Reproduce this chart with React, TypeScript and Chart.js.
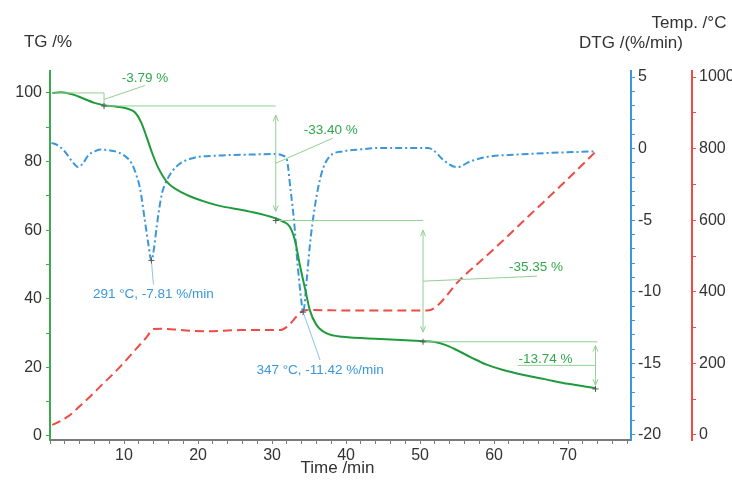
import React, { useEffect, useRef } from 'react';
import { Chart, registerables } from 'chart.js';

Chart.register(...registerables);

// ---- data ----
const tgTime = [0.3, 1.5, 3.0, 4.5, 6.0, 7.3, 9.0, 10.5, 11.5, 12.3, 13.0, 13.8, 14.6, 15.8, 18.0, 20.5, 22.5, 27.0, 30.4, 31.5, 32.4, 33.1, 33.8, 34.5, 35.1, 36.0, 37.4, 39.6, 44.6, 50.0, 52.0, 53.5, 55.0, 57.0, 59.0, 61.0, 64.0, 67.0, 70.0, 73.7];
const tgValue = [100.0, 100.2, 99.6, 98.4, 97.1, 96.4, 96.0, 95.4, 94.3, 91.5, 87.5, 82.5, 78.3, 74.1, 70.8, 68.6, 67.3, 65.4, 63.5, 62.5, 61.0, 57.0, 49.4, 42.6, 36.7, 32.4, 29.9, 28.9, 28.3, 27.7, 27.4, 26.5, 25.0, 22.8, 20.8, 19.4, 17.8, 16.5, 15.2, 13.9];

const dtgTime = [0.2, 1.0, 2.0, 3.0, 3.8, 4.5, 5.2, 6.0, 6.8, 8.0, 9.2, 10.2, 11.0, 11.7, 12.2, 12.8, 13.3, 13.7, 14.1, 14.4, 15.1, 15.8, 17.1, 19.4, 22.5, 27.0, 30.4, 31.5, 32.0, 32.5, 33.0, 33.35, 34.0, 34.2, 34.7, 35.1, 35.8, 36.7, 37.8, 39.6, 42.0, 44.6, 47.3, 51.1, 52.0, 53.1, 55.0, 56.8, 59.0, 63.1, 67.6, 73.7];
const dtgValue = [0.4, 0.25, -0.2, -0.9, -1.28, -1.0, -0.45, -0.2, -0.07, -0.12, -0.26, -0.55, -1.0, -1.9, -2.86, -4.96, -6.7, -7.81, -6.8, -5.5, -3.2, -2.2, -1.24, -0.65, -0.49, -0.42, -0.37, -0.5, -0.77, -2.86, -5.2, -7.5, -10.8, -11.42, -9.1, -6.8, -4.0, -1.7, -0.54, -0.19, -0.05, 0.05, 0.05, 0.05, -0.2, -0.77, -1.3, -0.89, -0.58, -0.42, -0.3, -0.19];

const tempTime = [0.3, 1.5, 2.7, 4.0, 5.4, 7.0, 8.6, 10.2, 11.7, 13.0, 14.0, 15.0, 16.7, 19.0, 21.2, 25.7, 28.0, 31.1, 32.0, 32.9, 33.6, 34.2, 35.1, 40.0, 45.0, 51.0, 55.6, 60.0, 65.0, 70.0, 73.7];
const tempValue = [28, 40, 56, 80, 107, 140, 172, 207, 242, 272, 296, 297, 295, 291, 290, 293, 293, 293, 302, 321, 338, 347, 349, 348, 348, 348, 438, 520, 618, 716, 791];

// mass-loss steps
const stepStart = 0.3;
const stepTimes = [7.3, 30.5, 50.4, 73.7];
const stepLevels = [100, 96.21, 62.81, 27.46, 13.72];
const stepLabels = ['-3.79 %', '-33.40 %', '-35.35 %', '-13.74 %'];

// DTG peaks
const peakTimes = [13.7, 34.2];
const peakValues = [-7.81, -11.42];
const peakTemps = [291, 347];

// ticks
const xTicks: number[] = [];
for (let v = 0; v <= 78; v += 2) xTicks.push(v);
const tgTicks: number[] = [];
for (let v = 0; v <= 100; v += 10) tgTicks.push(v);
const dtgTicks: number[] = [];
for (let v = -20; v <= 5; v += 1) dtgTicks.push(v);
const tempTicks: number[] = [];
for (let v = 0; v <= 1000; v += 100) tempTicks.push(v);

// ---- styles / layout ----
const FONT = '"Liberation Sans", Arial, Helvetica, sans-serif';
const TG_COLOR = '#1f9a3c';
const TG_AXIS = '#3aaa4c';
const DTG_COLOR = '#3a97dc';
const T_COLOR = '#ee4b43';
const X_AXIS = '#7a7a7a';
const TEXT = '#333333';
const ANN_GREEN = '#93cf93';
const LABEL_GREEN = '#2fa84a';
const ANN_BLUE = '#8cc4ea';

// leader offsets (lx, ly) from the step midpoint, text offset (tx, ty) from leader end
const stepLabelLayout = [
  { lx: 41, ly: -14, tx: 0, ty: -7 },
  { lx: 57, ly: -25, tx: -2, ty: -8 },
  { lx: 114, ly: -5, tx: -1, ty: -9 },
  { lx: -78, ly: 0, tx: 28, ty: -6 },
];
const peakLabelLayout = [
  { lx: 2, ly: 24, ty: 10 },
  { lx: 17, ly: 48, ty: 10 },
];

const overlay = {
  id: 'overlay',
  afterDraw(chart: any) {
    const { ctx, scales, chartArea } = chart;
    const sx = scales.x, sTG = scales.yTG, sD = scales.yDTG, sT = scales.yT;
    const X = (t: number) => sx.getPixelForValue(t);
    const YG = (v: number) => sTG.getPixelForValue(v);
    const YD = (v: number) => sD.getPixelForValue(v);
    ctx.save();
    const line = (x1: number, y1: number, x2: number, y2: number) => {
      ctx.beginPath();
      ctx.moveTo(x1, y1);
      ctx.lineTo(x2, y2);
      ctx.stroke();
    };
    const head = (x: number, y: number, dir: number) => {
      line(x - 2.5, y - dir * 6, x, y);
      line(x + 2.5, y - dir * 6, x, y);
    };
    const plus = (x: number, y: number) => {
      ctx.save();
      ctx.strokeStyle = '#555';
      ctx.lineWidth = 1;
      line(x - 3, y, x + 3, y);
      line(x, y - 3, x, y + 3);
      ctx.restore();
    };

    // step lines
    ctx.strokeStyle = ANN_GREEN;
    ctx.lineWidth = 1;
    for (let i = 0; i < stepTimes.length; i++) {
      const x0 = X(i === 0 ? stepStart : stepTimes[i - 1]);
      const x1 = X(stepTimes[i]) + (i === stepTimes.length - 1 ? 2 : 0);
      const y = YG(stepLevels[i]);
      line(x0, y, x1, y);
    }
    ctx.font = `13.5px ${FONT}`;
    ctx.textAlign = 'center';
    ctx.textBaseline = 'middle';
    for (let i = 0; i < stepTimes.length; i++) {
      const x = X(stepTimes[i]);
      const yA = YG(stepLevels[i]);
      const yB = YG(stepLevels[i + 1]);
      ctx.strokeStyle = ANN_GREEN;
      if (i === 0) {
        line(x, yA, x, yB + 2);
      } else {
        const inset = Math.min(12, (yB - yA) * 0.08);
        line(x, yA + inset, x, yB - inset);
        head(x, yA + inset, -1);
        head(x, yB - inset, 1);
      }
      const ym = (yA + yB) / 2;
      const o = stepLabelLayout[i];
      line(x, ym, x + o.lx, ym + o.ly);
      ctx.fillStyle = LABEL_GREEN;
      ctx.fillText(stepLabels[i], x + o.lx + o.tx, ym + o.ly + o.ty);
      plus(x, yB);
    }

    // DTG peaks
    for (let i = 0; i < peakTimes.length; i++) {
      const x = X(peakTimes[i]);
      const y = YD(peakValues[i]);
      const o = peakLabelLayout[i];
      ctx.strokeStyle = ANN_BLUE;
      ctx.lineWidth = 1;
      line(x, y, x + o.lx, y + o.ly);
      plus(x, y);
      ctx.fillStyle = DTG_COLOR;
      ctx.fillText(`${peakTemps[i]} °C, ${peakValues[i].toFixed(2)} %/min`, x + o.lx, y + o.ly + o.ty);
    }

    // axis titles
    ctx.fillStyle = TEXT;
    ctx.font = `17px ${FONT}`;
    ctx.fillText('TG /%', sTG.right - 2, chartArea.top - 29);
    ctx.fillText('DTG /(%/min)', sD.left, chartArea.top - 28);
    ctx.fillText('Temp. /°C', sT.left - 3, chartArea.top - 48);
    ctx.fillText('Time /min', (chartArea.left + chartArea.right) / 2 - 3, chartArea.bottom + 28);
    ctx.restore();
  },
};

const tickFont = { family: FONT, size: 16 };

export default function App() {
  const ref = useRef<HTMLCanvasElement>(null);
  useEffect(() => {
    const canvas = ref.current!;
    const pts = (xs: number[], ys: number[]) => xs.map((x, i) => ({ x, y: ys[i] }));
    const chart = new Chart(canvas, {
      type: 'line',
      data: {
        datasets: [
          {
            label: 'TG',
            data: pts(tgTime, tgValue),
            yAxisID: 'yTG',
            borderColor: TG_COLOR,
            borderWidth: 2,
            pointRadius: 0,
            cubicInterpolationMode: 'monotone',
            fill: false,
          },
          {
            label: 'DTG',
            data: pts(dtgTime, dtgValue),
            yAxisID: 'yDTG',
            borderColor: DTG_COLOR,
            borderWidth: 2,
            borderDash: [7, 3, 2, 3],
            pointRadius: 0,
            cubicInterpolationMode: 'monotone',
            fill: false,
          },
          {
            label: 'Temp',
            data: pts(tempTime, tempValue),
            yAxisID: 'yT',
            borderColor: T_COLOR,
            borderWidth: 2,
            borderDash: [9, 5],
            pointRadius: 0,
            cubicInterpolationMode: 'monotone',
            fill: false,
          },
        ],
      } as any,
      options: {
        animation: false,
        responsive: false,
        layout: { padding: { top: 71, left: 0, right: 0, bottom: 0 } },
        plugins: { legend: { display: false }, tooltip: { enabled: false }, title: { display: false } },
        scales: {
          x: {
            type: 'linear',
            position: 'bottom',
            min: 0,
            max: 78.5,
            afterFit: (s: any) => { s.height = 40; },
            afterBuildTicks: (s: any) => { s.ticks = xTicks.map((v) => ({ value: v })); },
            ticks: {
              autoSkip: false,
              maxRotation: 0,
              padding: 2,
              color: TEXT,
              font: tickFont,
              callback: (v: any) => (v % 10 === 0 && v > 0 ? String(v) : ''),
            },
            grid: { drawOnChartArea: false, drawTicks: true, tickLength: 4, color: X_AXIS },
            border: { color: X_AXIS, width: 2 },
          },
          yTG: {
            type: 'linear',
            position: 'left',
            min: -1.17,
            max: 106.4,
            afterFit: (s: any) => { s.width = 50; },
            afterBuildTicks: (s: any) => { s.ticks = tgTicks.map((v) => ({ value: v })); },
            ticks: {
              autoSkip: false,
              padding: 4,
              color: TEXT,
              font: tickFont,
              callback: (v: any) => (v % 20 === 0 ? String(v) : ''),
            },
            grid: { drawOnChartArea: false, drawTicks: true, tickLength: 4, color: TG_AXIS },
            border: { color: TG_AXIS, width: 2 },
          },
          yDTG: {
            type: 'linear',
            position: 'right',
            weight: 0,
            min: -20.35,
            max: 5.42,
            afterFit: (s: any) => { s.width = 61; },
            afterBuildTicks: (s: any) => { s.ticks = dtgTicks.map((v) => ({ value: v })); },
            ticks: {
              autoSkip: false,
              padding: 3,
              color: TEXT,
              font: tickFont,
              callback: (v: any) => (v % 5 === 0 ? String(v) : ''),
            },
            grid: { drawOnChartArea: false, drawTicks: true, tickLength: 4, color: DTG_COLOR },
            border: { color: DTG_COLOR, width: 2 },
          },
          yT: {
            type: 'linear',
            position: 'right',
            weight: 1,
            min: -14,
            max: 1017,
            afterFit: (s: any) => { s.width = 40; },
            afterBuildTicks: (s: any) => { s.ticks = tempTicks.map((v) => ({ value: v })); },
            ticks: {
              autoSkip: false,
              padding: 3,
              color: TEXT,
              font: tickFont,
              callback: (v: any) => (v % 200 === 0 ? String(v) : ''),
            },
            grid: { drawOnChartArea: false, drawTicks: true, tickLength: 4, color: T_COLOR },
            border: { color: T_COLOR, width: 2 },
          },
        },
      } as any,
      plugins: [overlay],
    });
    return () => chart.destroy();
  }, []);
  return (
    <div style={{ position: 'absolute', left: 0, top: 0, width: 732, height: 480, background: '#fff' }}>
      <canvas ref={ref} width={732} height={480} style={{ display: 'block', width: 732, height: 480 }} />
    </div>
  );
}
